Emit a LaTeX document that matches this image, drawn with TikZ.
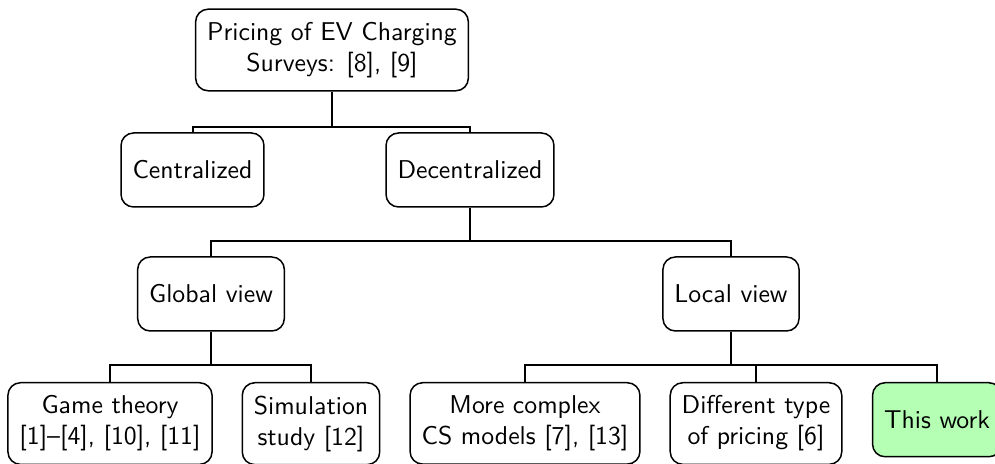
\documentclass[tikz,border=0pt]{standalone}
\usepackage{tikz}
\usetikzlibrary{positioning,calc}
\definecolor{mint}{RGB}{180,255,180}
\tikzset{
  cat/.style={draw=black,fill=#1,rounded corners=5pt,semithick,
    minimum height=29.6pt,inner xsep=4.6pt,inner ysep=5.2pt,align=center,
    font=\fontsize{10.3}{12.4}\selectfont\sffamily},
  cat/.default=white,
  fork/.style={draw=black,line width=0.8pt},
}

\begin{document}
\begin{tikzpicture}[x=0.4pt,y=0.4pt]
  \clip (0,0) rectangle (995,-464);
  \node[cat] (root) at (332,-50) {Pricing of EV Charging\\Surveys: [8], [9]};
  \node[cat] (cent) at (192.5,-170) {Centralized};
  \node[cat] (dec) at (470,-170) {Decentralized};
  \node[cat] (glob) at (211,-294) {Global view};
  \node[cat] (loc) at (731,-294) {Local view};
  % bottom row, tops aligned
  \foreach \n/\x/\t/\c in {game/110/{Game theory\\{[1]--[4], [10], [11]}}/white,
      sim/311/{Simulation\\study [12]}/white,
      cmplx/525/{More complex\\CS models [7], [13]}/white,
      diff/756/{Different type\\of pricing [6]}/white,
      this/937/{This work}/mint}
    \node[cat=\c,anchor=north] (\n) at (\x,-382) {\t};
  \draw[fork] (root.south) -- ++(0,-35) -| (cent.north);
  \draw[fork] (root.south) -- ++(0,-35) -| (dec.north);
  \draw[fork] (dec.south) -- ++(0,-33) -| (glob.north);
  \draw[fork] (dec.south) -- ++(0,-33) -| (loc.north);
  \draw[fork] (glob.south) -- ++(0,-33) -| (game.north);
  \draw[fork] (glob.south) -- ++(0,-33) -| (sim.north);
  \foreach \n in {cmplx,diff,this}
    \draw[fork] (loc.south) -- ++(0,-33) -| (\n.north);
\end{tikzpicture}
\end{document}
